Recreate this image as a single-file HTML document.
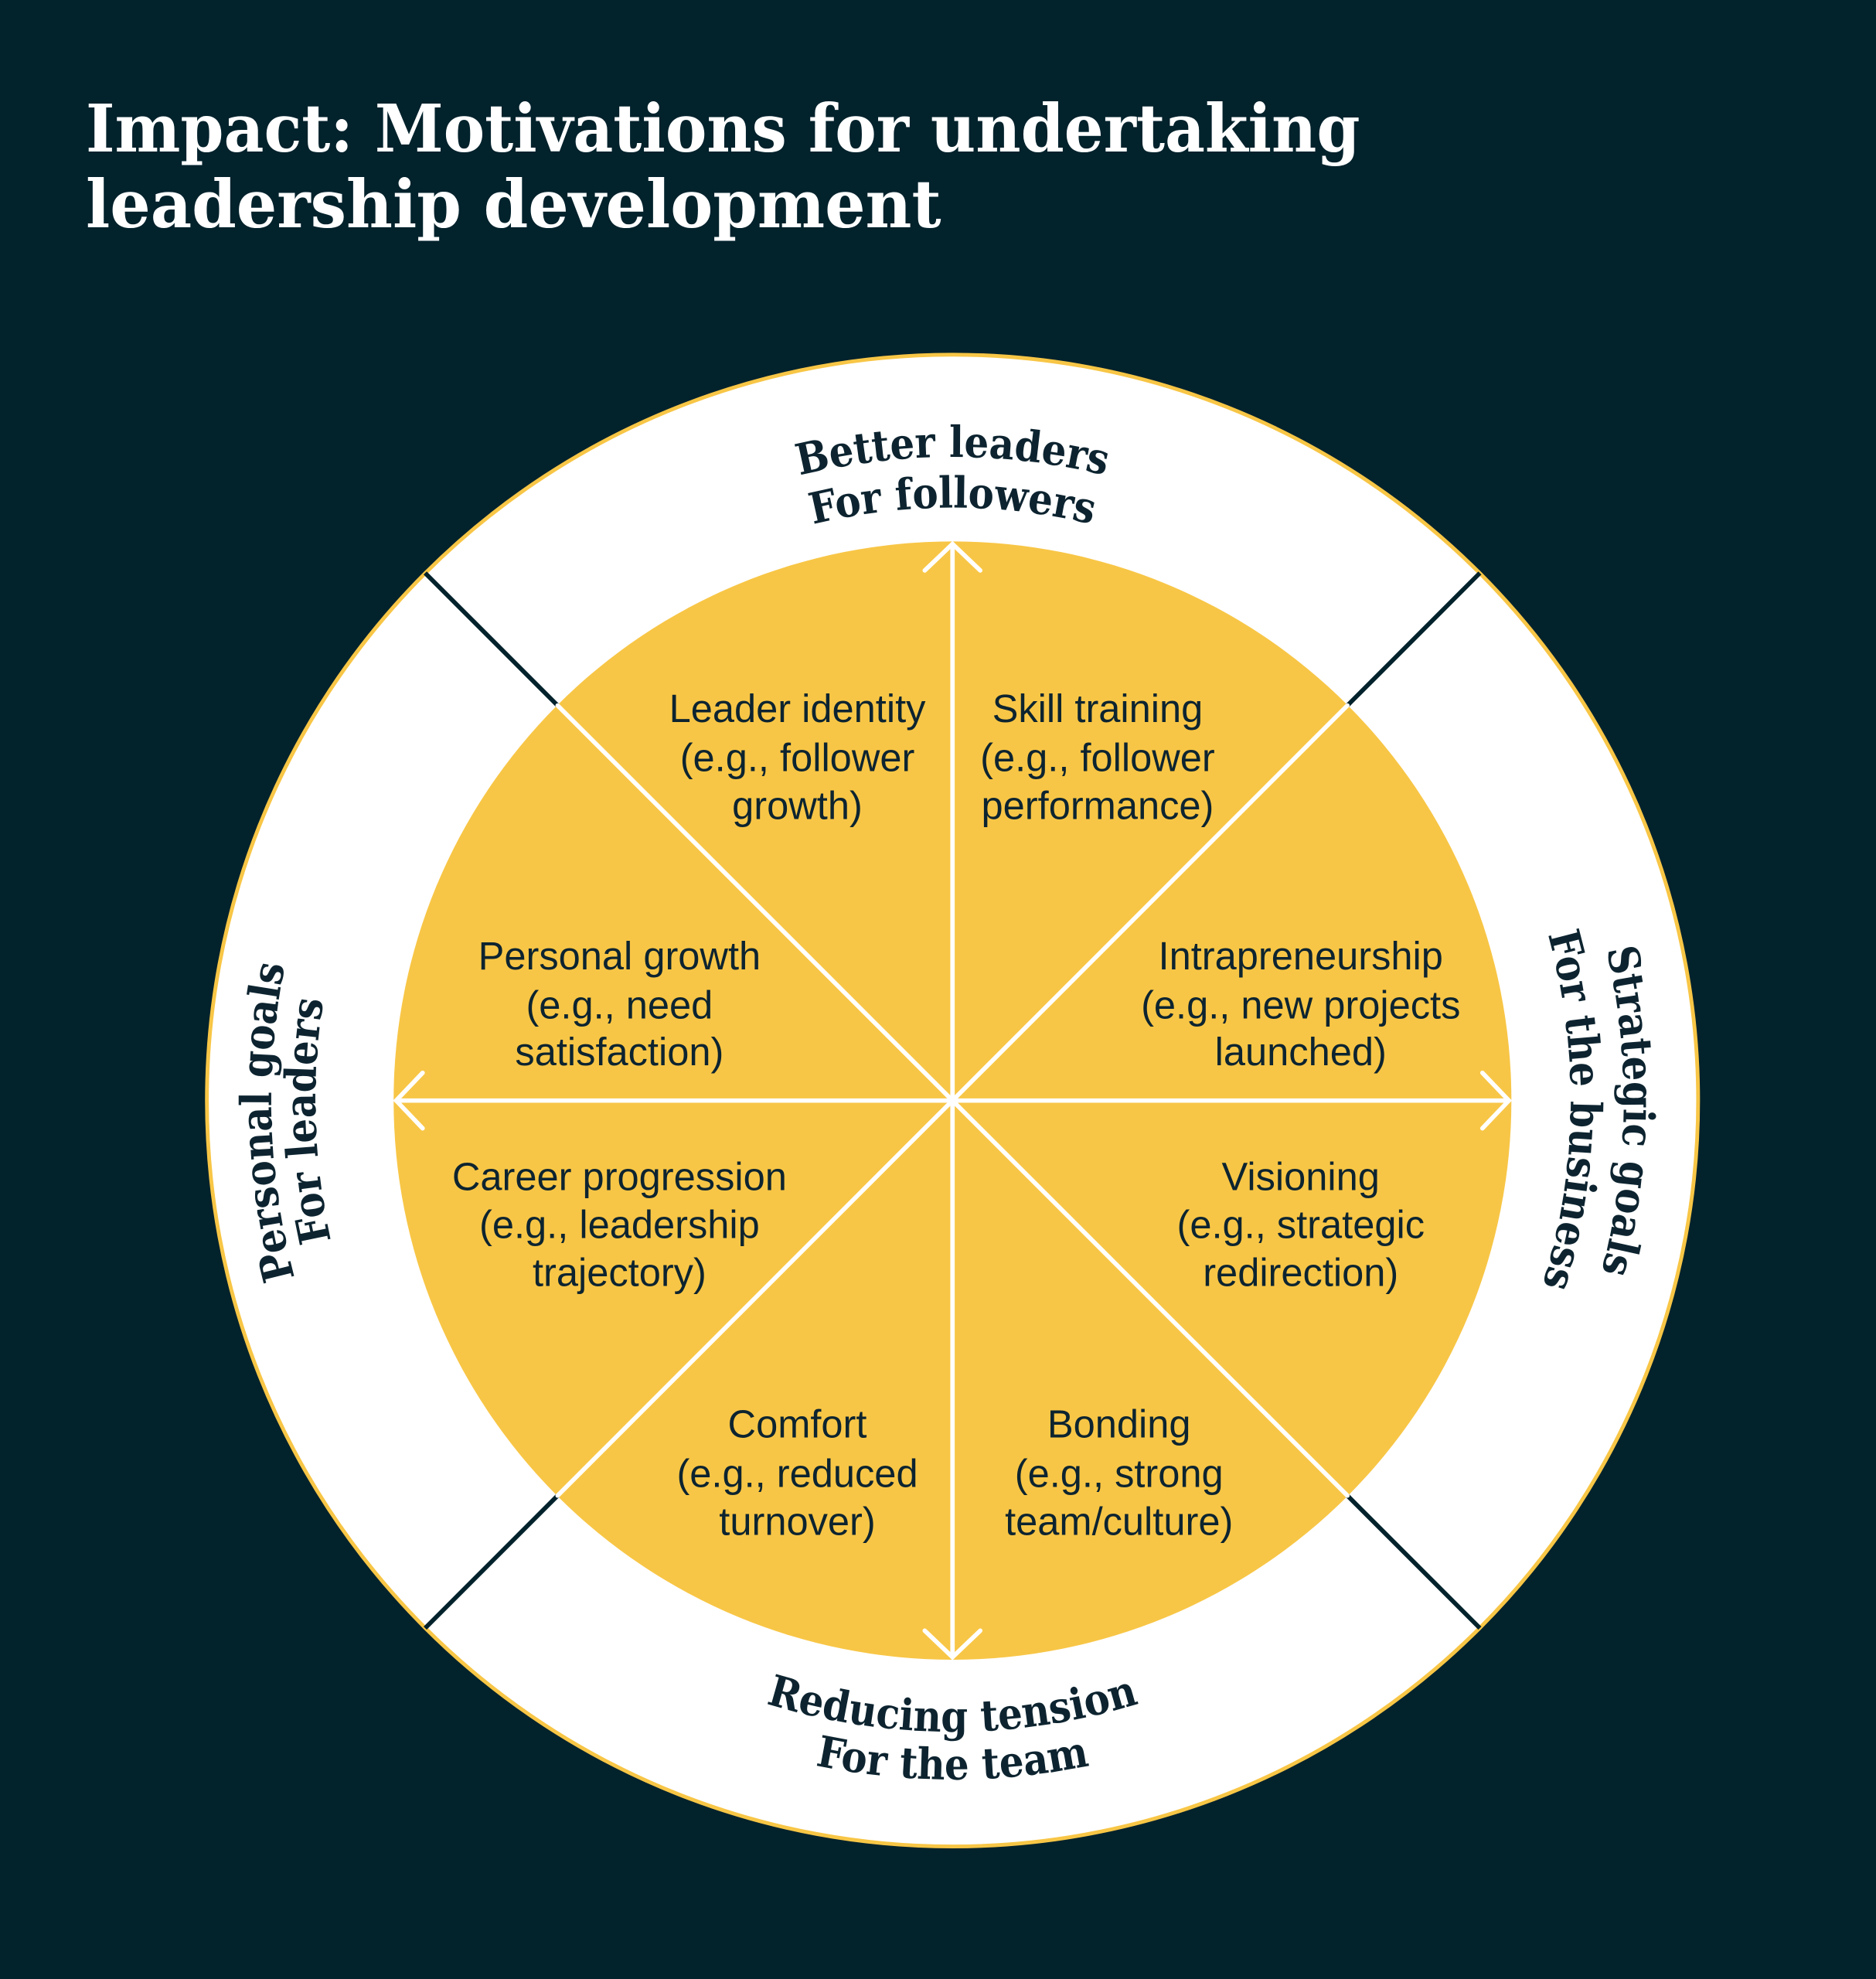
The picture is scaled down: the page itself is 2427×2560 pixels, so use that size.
<!DOCTYPE html>
<html><head><meta charset="utf-8"><style>
html,body{margin:0;padding:0;background:#02222c;}
svg{display:block;}
.t{font-family:"DejaVu Serif Condensed","DejaVu Serif","Liberation Serif",serif;font-weight:bold;fill:#fff;}
.o{font-family:"DejaVu Serif Condensed","DejaVu Serif","Liberation Serif",serif;font-weight:bold;fill:#0d2430;font-size:34px;}
.l{font-family:"Liberation Sans",Arial,sans-serif;fill:#0d2430;font-size:31px;text-anchor:middle;}
</style></head><body>
<svg width="2427" height="2560" viewBox="0 0 1487 1568" preserveAspectRatio="none" xmlns="http://www.w3.org/2000/svg">
<rect width="1487" height="1568" fill="#02222c"/>
<text class="t" x="68" y="120" font-size="52" textLength="1010" lengthAdjust="spacingAndGlyphs">Impact: Motivations for undertaking</text>
<text class="t" x="68" y="180" font-size="52" textLength="678" lengthAdjust="spacingAndGlyphs">leadership development</text>
<circle cx="755" cy="872" r="591" fill="#fff" stroke="#f8c646" stroke-width="3"/>
<circle cx="755" cy="872" r="443" fill="#f8c646"/>
<g stroke="#02222c" stroke-width="3.5">
<line x1="442" y1="559" x2="337" y2="454"/>
<line x1="1068" y1="559" x2="1173" y2="454"/>
<line x1="442" y1="1185" x2="337" y2="1290"/>
<line x1="1068" y1="1185" x2="1173" y2="1290"/>
</g>
<g stroke="#fff" stroke-width="3.5" fill="none" stroke-linecap="round">
<line x1="755" y1="431" x2="755" y2="1313"/>
<line x1="314" y1="872" x2="1196" y2="872"/>
<line x1="442" y1="559" x2="1068" y2="1185"/>
<line x1="1068" y1="559" x2="442" y2="1185"/>
<polyline points="733,452 755,431 777,452"/>
<polyline points="733,1292 755,1313 777,1292"/>
<polyline points="335,850 314,872 335,894"/>
<polyline points="1175,850 1196,872 1175,894"/>
</g>
<defs>
<path id="t1" d="M245,872 A510,510 0 0 1 1265,872"/>
<path id="t2" d="M285,872 A470,470 0 0 1 1225,872"/>
<path id="b1" d="M255,872 A500,500 0 0 0 1255,872"/>
<path id="b2" d="M217,872 A538,538 0 0 0 1293,872"/>
<path id="l1" d="M755,1412 A540,540 0 0 1 755,332"/>
<path id="l2" d="M755,1377 A505,505 0 0 1 755,367"/>
<path id="r1" d="M755,340 A532,532 0 0 1 755,1404"/>
<path id="r2" d="M755,382 A490,490 0 0 1 755,1362"/>
</defs>
<text class="o"><textPath href="#t1" startOffset="50%" text-anchor="middle">Better leaders</textPath></text>
<text class="o"><textPath href="#t2" startOffset="50%" text-anchor="middle">For followers</textPath></text>
<text class="o"><textPath href="#b1" startOffset="50%" text-anchor="middle">Reducing tension</textPath></text>
<text class="o"><textPath href="#b2" startOffset="50%" text-anchor="middle">For the team</textPath></text>
<text class="o"><textPath href="#l1" startOffset="49%" text-anchor="middle">Personal goals</textPath></text>
<text class="o"><textPath href="#l2" startOffset="49%" text-anchor="middle">For leaders</textPath></text>
<text class="o"><textPath href="#r1" startOffset="50.5%" text-anchor="middle">Strategic goals</textPath></text>
<text class="o"><textPath href="#r2" startOffset="50.5%" text-anchor="middle">For the business</textPath></text>
<text class="l" x="632" y="572">Leader identity<tspan x="632" y="611">(e.g., follower</tspan><tspan x="632" y="649">growth)</tspan></text>
<text class="l" x="870" y="572">Skill training<tspan x="870" y="611">(e.g., follower</tspan><tspan x="870" y="649">performance)</tspan></text>
<text class="l" x="491" y="768">Personal growth<tspan x="491" y="807">(e.g., need</tspan><tspan x="491" y="844">satisfaction)</tspan></text>
<text class="l" x="1031" y="768">Intrapreneurship<tspan x="1031" y="807">(e.g., new projects</tspan><tspan x="1031" y="844">launched)</tspan></text>
<text class="l" x="491" y="943">Career progression<tspan x="491" y="981">(e.g., leadership</tspan><tspan x="491" y="1019">trajectory)</tspan></text>
<text class="l" x="1031" y="943">Visioning<tspan x="1031" y="981">(e.g., strategic</tspan><tspan x="1031" y="1019">redirection)</tspan></text>
<text class="l" x="632" y="1139">Comfort<tspan x="632" y="1178">(e.g., reduced</tspan><tspan x="632" y="1216">turnover)</tspan></text>
<text class="l" x="887" y="1139">Bonding<tspan x="887" y="1178">(e.g., strong</tspan><tspan x="887" y="1216">team/culture)</tspan></text>
</svg>
</body></html>
